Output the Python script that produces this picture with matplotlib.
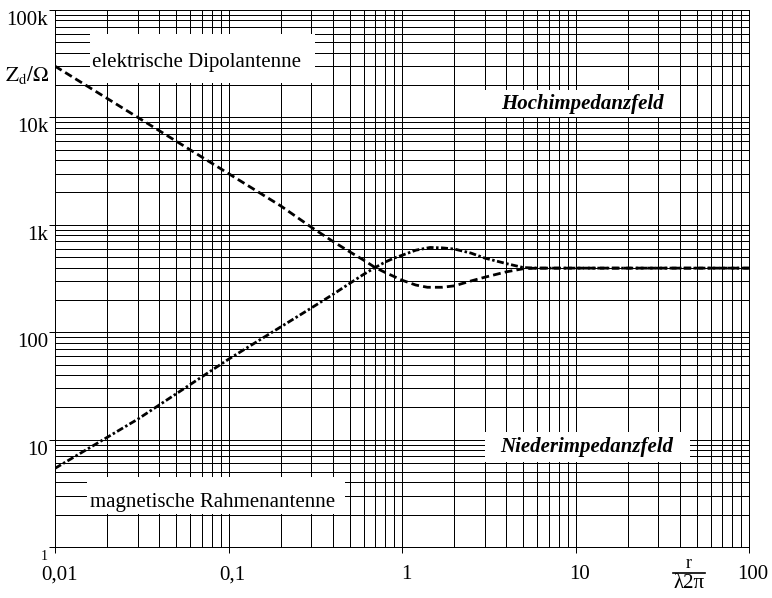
import matplotlib
matplotlib.use("Agg")
import matplotlib.pyplot as plt
from matplotlib.lines import Line2D
from matplotlib.patches import Rectangle
from matplotlib.transforms import ScaledTranslation

plt.rcParams["font.family"] = "serif"
plt.rcParams["font.serif"] = ["Liberation Serif", "DejaVu Serif"]
plt.rcParams["mathtext.fontset"] = "stix"

# wave impedance (x = r / (lambda 2 pi), Z in ohm)
x_dipol = [0.01, 0.02, 0.03, 0.05, 0.1, 0.2, 0.3, 0.4, 0.5, 0.6, 0.7, 0.8, 0.9,
           1.0, 1.2, 1.4, 1.7, 2.0, 2.5, 3.0, 4.0, 5.0, 6.0, 10, 20, 50, 100]
z_dipol = [30000, 15000, 10000, 6000, 3000, 1500, 950, 700, 560, 470, 400, 360, 330,
           305, 275, 262, 262, 270, 300, 325, 365, 390, 395, 395, 395, 395, 395]

x_rahmen = [0.01, 0.03, 0.1, 0.2, 0.3, 0.4, 0.5, 0.6, 0.7, 0.8, 0.9, 1.0, 1.2,
            1.45, 1.7, 2.0, 2.5, 3.0, 4.0, 5.0, 6.0, 10, 100]
z_rahmen = [5.4, 15.5, 56, 112, 168, 225, 285, 345, 400, 450, 490, 520, 580,
            615, 610, 595, 545, 490, 435, 400, 395, 395, 395]

x_ticks = [0.01, 0.1, 1, 10, 100]
x_labels = ["0,01", "0,1", "1", "10", "100"]
y_ticks = [1, 10, 100, 1e3, 1e4, 1e5]
y_labels = ["1", "10", "100", "1k", "10k", "100k"]

W, H = 772, 598
fig = plt.figure(figsize=(W / 100, H / 100), dpi=100)
L, R, T, B = 55, 749, 10, 547
ax = fig.add_axes([L / W, 1 - B / H, (R - L) / W, (B - T) / H])

ax.set_xscale("log")
ax.set_yscale("log")
ax.set_xlim(0.01, 100)
ax.set_ylim(1, 1e5)
ax.set_axisbelow(True)
ax.grid(True, which="both", color="black", linewidth=0.72)

ax.set_xticks(x_ticks)
ax.set_xticklabels(x_labels)
ax.set_yticks(y_ticks)
ax.set_yticklabels(y_labels)
ax.tick_params(which="major", length=4, width=0.72, direction="out", labelsize=15)
ax.tick_params(which="minor", length=0)
ax.tick_params(axis="x", pad=9)
ax.tick_params(axis="y", pad=1)
for sp in ax.spines.values():
    sp.set_linewidth(0.72)

for lab in ax.get_xticklabels():
    lab.set_transform(lab.get_transform() + ScaledTranslation(4 / 100, 0, fig.dpi_scale_trans))
for lab in ax.get_yticklabels():
    lab.set_transform(lab.get_transform() + ScaledTranslation(0, -8 / 100, fig.dpi_scale_trans))
ax.get_yticklabels()[0].set_fontsize(10)


def px_box(x0, x1, y0, y1):
    # white patch given in figure pixels, hides the grid behind a label
    ax.add_patch(Rectangle(((x0 - L) / (R - L), (B - y1) / (B - T)),
                           (x1 - x0) / (R - L), (y1 - y0) / (B - T),
                           transform=ax.transAxes, facecolor="white",
                           edgecolor="none", zorder=1))


def px_text(x, y, s, **kw):
    ax.text((x - L) / (R - L), (B - y) / (B - T), s, transform=ax.transAxes,
            va="center", zorder=3, **kw)


px_box(90, 315, 34, 83)
px_text(92, 62, "elektrische Dipolantenne", fontsize=15, ha="left")

px_box(485, 680, 90, 117)
px_text(582, 104, "Hochimpedanzfeld", fontsize=15, ha="center",
        fontweight="bold", fontstyle="italic")

px_box(485, 690, 432, 462)
px_text(587, 447, "Niederimpedanzfeld", fontsize=15, ha="center",
        fontweight="bold", fontstyle="italic")

px_box(87, 345, 477, 514)
px_text(90, 502, "magnetische Rahmenantenne", fontsize=15, ha="left")

ax.plot(x_dipol, z_dipol, color="black", linewidth=2, dashes=(2.8, 1.5), zorder=2)
ax.plot(x_rahmen, z_rahmen, color="black", linewidth=2,
        dashes=(2.5, 0.9, 0.9, 0.9), zorder=2)

fig.text(27 / W, 1 - 75 / H, r"$\mathrm{Z_d/}\Omega$", fontsize=15,
         ha="center", va="center")

# axis quantity r / (lambda 2 pi) written as a stacked fraction
fig.text(689 / W, 1 - 564 / H, "r", fontsize=13, ha="center", va="center")
fig.add_artist(Line2D([673 / W, 705 / W], [1 - 573 / H, 1 - 573 / H],
                      color="black", linewidth=1.2))
fig.text(689 / W, 1 - 584 / H, "λ2π", fontsize=15, ha="center", va="center")

fig.savefig("out.png", dpi=100)
